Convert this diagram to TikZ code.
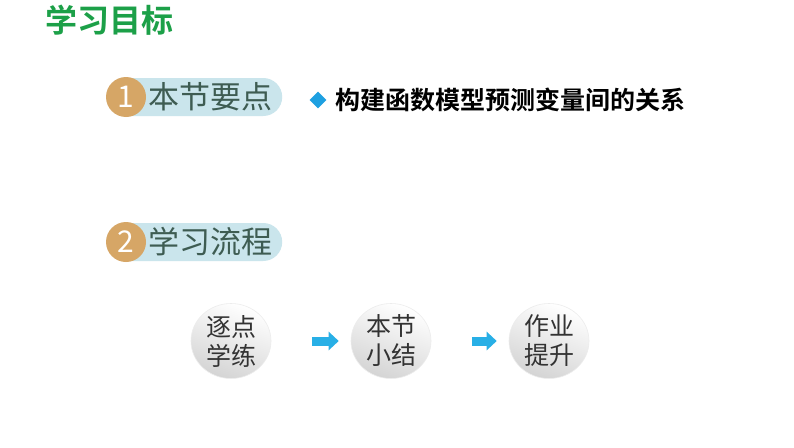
\documentclass[tikz,border=0pt]{standalone}
\usepackage{fontspec}
\setmainfont{Noto Sans CJK SC}
\newfontfamily\cjk{Noto Sans CJK SC}
\newfontfamily\cjkb{Noto Sans CJK SC Bold}
\usetikzlibrary{shapes.geometric,arrows.meta}
\definecolor{titlegreen}{RGB}{28,160,72}
\definecolor{badgeorange}{RGB}{214,166,102}
\definecolor{pillblue}{RGB}{202,229,236}
\definecolor{pilltext}{RGB}{62,92,82}
\definecolor{diamondblue}{RGB}{30,160,225}
\definecolor{arrowblue}{RGB}{40,175,230}
\definecolor{ovalgray}{RGB}{212,212,212}
\begin{document}
\begin{tikzpicture}[x=1pt,y=-1pt,
  pill/.style={fill=pillblue,rounded corners=19pt,minimum width=174pt,minimum height=38pt,inner sep=0pt},
  badge/.style={circle,fill=badgeorange,minimum size=40pt,inner sep=0pt,text=white,font=\cjk\fontsize{30}{30}\selectfont},
  pilllabel/.style={text=pilltext,font=\cjk\fontsize{31}{31}\selectfont,inner sep=0pt,anchor=west},
  oval/.style={ellipse,minimum width=80pt,minimum height=75pt,inner sep=0pt,
    top color=white,bottom color=ovalgray,shading angle=-20,
    draw=white!85!gray,line width=0.6pt,align=center,text=black!80,font=\cjk\fontsize{25}{29}\selectfont},
  flowarrow/.style={-{Triangle[length=10pt,width=18pt]},line width=9pt,draw=arrowblue}]
\useasboundingbox (0,0) rectangle (794,447);
\fill[white] (0,0) rectangle (794,447);
\node[anchor=west,text=titlegreen,font=\cjkb\fontsize{32}{32}\selectfont,inner sep=0pt] (title) at (45,20) {学习目标};
% section 1
\node[pill,anchor=west] (pill1) at (108,97) {};
\node[badge] (b1) at (126,97) {1};
\node[pilllabel] (l1) at (148,97) {本节要点};
\node[diamond,fill=diamondblue,minimum size=17pt,inner sep=0pt] (dia) at (318,100) {};
\node[anchor=west,font=\cjkb\fontsize{25}{25}\selectfont,inner sep=0pt] (point) at (335,100) {构建函数模型预测变量间的关系};
% section 2
\node[pill,anchor=west] (pill2) at (108,242) {};
\node[badge] (b2) at (126,242) {2};
\node[pilllabel] (l2) at (148,242) {学习流程};
% flow
\node[oval] (o1) at (231,341) {逐点\\学练};
\node[oval] (o2) at (391,341) {本节\\小结};
\node[oval] (o3) at (549,341) {作业\\提升};
\draw[flowarrow] ([xshift=41pt]o1.east) -- ([xshift=-12pt]o2.west);
\draw[flowarrow] ([xshift=41pt]o2.east) -- ([xshift=-12pt]o3.west);
\end{tikzpicture}
\end{document}
